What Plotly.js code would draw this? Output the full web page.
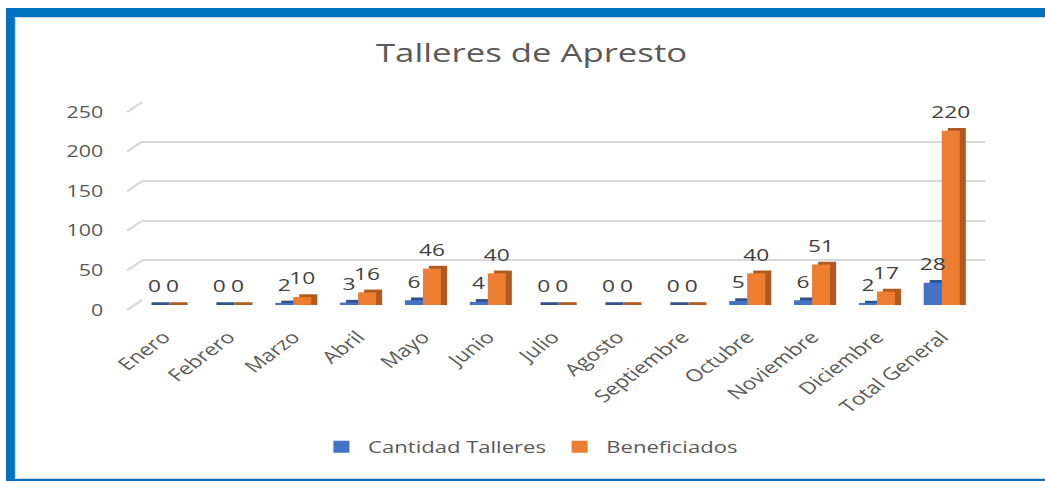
<!DOCTYPE html>
<html>
<head>
<meta charset="utf-8">
<script src="https://cdn.plot.ly/plotly-3.0.1.min.js"></script>
<style>
html,body{margin:0;padding:0;overflow:hidden;background:#fff;width:1045px;height:481px;}
#chart{width:782px;height:481px;transform:scaleX(1.33632);transform-origin:0 0;}
</style>
</head>
<body>
<div id="chart"></div>
<script>
const categories = ['Enero','Febrero','Marzo','Abril','Mayo','Junio','Julio','Agosto','Septiembre','Octubre','Noviembre','Diciembre','Total General'];
const talleres = [0,0,2,3,6,4,0,0,0,5,6,2,28];
const beneficiados = [0,0,10,16,46,40,0,0,0,40,51,17,220];
const yTicks = [0,50,100,150,200,250];

const seriesNames = ['Cantidad Talleres','Beneficiados'];
const frontColors = ['#4472C4','#ED7D31'];
const sideColors = ['#2F528F','#AE5A21'];

const W = 0.278;      // bar width (category units)
const DEPTH_X = 0.093; // side face offset
const DEPTH_Y = 3.5;   // side face rise (data units)
const LABEL_LIFT = 6;  // label lift (data units)
const Y_MAX = 250;

const series = [talleres, beneficiados];
const offsets = [-W, 0];
const traces = [];

series.forEach((vals, i) => {
  traces.push({
    type:'bar', x:categories, y:vals.map(v => v + DEPTH_Y), base:0,
    xaxis:'x2', yaxis:'y2', width:W, offset:offsets[i] + DEPTH_X,
    marker:{color:sideColors[i]}, showlegend:false, hoverinfo:'skip'
  });
});
series.forEach((vals, i) => {
  traces.push({
    type:'bar', name:seriesNames[i], x:categories, y:vals,
    xaxis:'x2', yaxis:'y2', width:W, offset:offsets[i],
    marker:{color:frontColors[i]}, hoverinfo:'x+y'
  });
});
series.forEach((vals, i) => {
  traces.push({
    type:'bar', x:categories, y:vals, base:LABEL_LIFT,
    xaxis:'x2', yaxis:'y2', width:W, offset:offsets[i],
    marker:{color:'rgba(0,0,0,0)'}, showlegend:false, hoverinfo:'skip',
    text:vals.map(String), textposition:'outside', cliponaxis:false,
    constraintext:'none',
    textfont:{family:'Open Sans', size:17, color:'#404040'}
  });
});
traces.push({type:'scatter', x:[0], y:[0], xaxis:'x', yaxis:'y', mode:'markers',
  marker:{opacity:0}, showlegend:false, hoverinfo:'skip'});

const Hpx = 481, Wpx = 782;
const py = p => 1 - p / Hpx;
const px = p => p / Wpx;
const gridDomY = [py(300), py(102)];
const gridDomX = [px(106.3), px(737.3)];

const shapes = [];
yTicks.forEach(v => {
  shapes.push({type:'line', layer:'below', xref:'paper', yref:'paper',
    xsizemode:'pixel', xanchor:gridDomX[0], x0:-11.2, x1:0,
    ysizemode:'pixel', yanchor:gridDomY[0] + (v / Y_MAX) * (gridDomY[1] - gridDomY[0]), y0:-10, y1:0,
    line:{color:'#D9D9D9', width:2}});
});
shapes.push({type:'rect', xref:'paper', yref:'paper', x0:px(4.5), x1:px(11.2), y0:0, y1:py(8), fillcolor:'#0070C0', line:{width:0}});
shapes.push({type:'rect', xref:'paper', yref:'paper', x0:px(4.5), x1:1, y0:py(17), y1:py(8), fillcolor:'#0070C0', line:{width:0}});
shapes.push({type:'rect', xref:'paper', yref:'paper', x0:px(4.5), x1:1, y0:0, y1:py(479), fillcolor:'#0070C0', line:{width:0}});
shapes.push({type:'line', xref:'paper', yref:'paper', x0:px(11.2), x1:1, y0:py(17.5), y1:py(17.5), line:{color:'#D6D6D6', width:1}});
shapes.push({type:'line', xref:'paper', yref:'paper', x0:px(11.6), x1:px(11.6), y0:py(478.5), y1:py(17.5), line:{color:'#D6D6D6', width:1}});
shapes.push({type:'line', xref:'paper', yref:'paper', x0:px(11.2), x1:1, y0:py(478.5), y1:py(478.5), line:{color:'#D6D6D6', width:1}});

const layout = {
  width:Wpx, height:Hpx, autosize:false,
  margin:{l:0,r:0,t:0,b:0,pad:0},
  paper_bgcolor:'#FFFFFF', plot_bgcolor:'rgba(0,0,0,0)',
  font:{family:'Open Sans', color:'#595959'},
  barmode:'overlay',
  title:{text:'Talleres de Apresto', font:{family:'Open Sans', size:26, color:'#595959'},
    x:0.5087, xref:'paper', xanchor:'center', y:py(53), yref:'paper', yanchor:'middle'},
  xaxis:{domain:gridDomX, range:[0,1], visible:false, fixedrange:true},
  yaxis:{domain:gridDomY, range:[0,Y_MAX], tickvals:yTicks,
    showgrid:true, gridcolor:'#D9D9D9', gridwidth:2, zeroline:false, showline:false,
    ticks:'', tickfont:{family:'Open Sans', size:16, color:'#595959'},
    ticklabelstandoff:28, ticklabelshift:10, anchor:'x', fixedrange:true},
  xaxis2:{domain:[px(98.1), px(729.0)], type:'category', categoryarray:categories,
    range:[-0.5,12.5], anchor:'y2', showgrid:false, zeroline:false, showline:false,
    ticks:'', tickangle:-45, ticklabelstandoff:18,
    tickfont:{family:'Open Sans', size:17, color:'#595959'}, fixedrange:true},
  yaxis2:{domain:[py(305), py(107)], range:[0,Y_MAX], anchor:'x2', visible:false, fixedrange:true},
  legend:{orientation:'h', x:0.507, xanchor:'center', y:py(447), yanchor:'middle',
    font:{family:'Open Sans', size:16.5, color:'#595959'}, traceorder:'normal', itemwidth:30,
    bgcolor:'rgba(0,0,0,0)'},
  shapes:shapes,
  showlegend:true
};

Plotly.newPlot('chart', traces, layout, {displayModeBar:false, responsive:false});
</script>
</body>
</html>
